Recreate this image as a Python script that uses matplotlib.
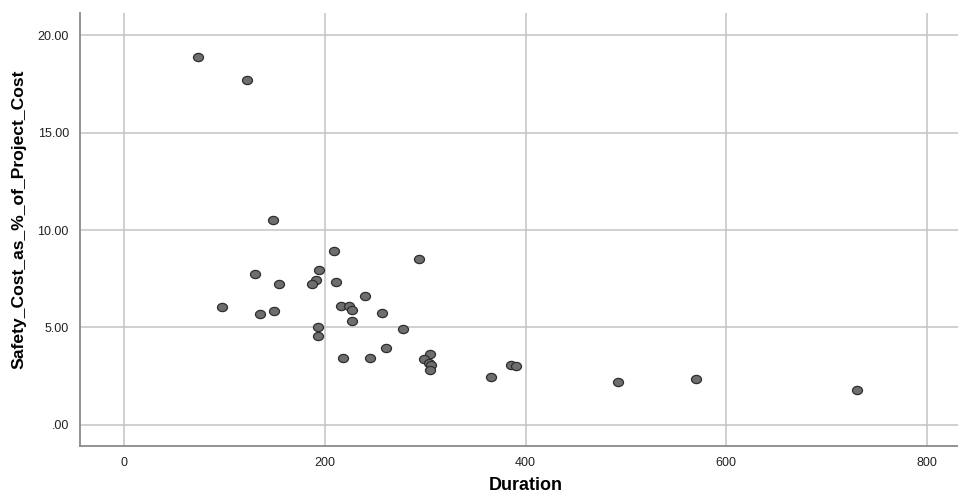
import matplotlib
matplotlib.use("Agg")
from matplotlib import pyplot as plt
from matplotlib.path import Path
from matplotlib.transforms import Affine2D

# Duration vs safety cost share
duration = [74, 122, 148, 209, 294, 130, 194, 154, 191, 187, 211, 240,
            98, 216, 224, 227, 135, 149, 257, 227, 193, 193, 278, 261,
            218, 245, 305, 299, 304, 306, 305, 366, 386, 391, 492, 570, 730]
safety_pct = [18.87, 17.69, 10.51, 8.92, 8.51, 7.72, 7.93, 7.23, 7.44, 7.22,
              7.33, 6.62, 6.04, 6.09, 6.09, 5.88, 5.67, 5.85, 5.74, 5.31,
              5.03, 4.58, 4.93, 3.95, 3.45, 3.45, 3.64, 3.40, 3.17, 3.08,
              2.84, 2.46, 3.08, 3.02, 2.21, 2.36, 1.79]

x_ticks = [0, 200, 400, 600, 800]
y_ticks = [0, 5, 10, 15, 20]
y_tick_labels = [".00", "5.00", "10.00", "15.00", "20.00"]

plt.rcParams['font.family'] = ['Liberation Sans', 'DejaVu Sans']

# slightly flattened circle, like the spss dots
oval = Affine2D().scale(1.0, 0.82).transform_path(Path.unit_circle())

fig = plt.figure(figsize=(9.58, 4.93), dpi=100)
ax = fig.add_axes([0.0835, 0.0953, 0.9165, 0.8783])

ax.scatter(duration, safety_pct, s=52, marker=oval, facecolor="#6e6e6e",
           edgecolor="#2e2e2e", linewidth=0.9, zorder=3)

ax.set_xlim(-44, 831)
ax.set_ylim(-1.08, 21.13)
ax.set_xticks(x_ticks)
ax.set_yticks(y_ticks)
ax.set_yticklabels(y_tick_labels)
ax.tick_params(length=0, labelsize=9, pad=8, colors="#222222")
ax.grid(True, color="#c4c4c4", linewidth=1.1)
ax.set_axisbelow(True)

for side in ["top", "right"]:
    ax.spines[side].set_visible(False)
for side in ["left", "bottom"]:
    ax.spines[side].set_color("#8a8a8a")
    ax.spines[side].set_linewidth(1.3)

ax.set_xlabel("Duration", fontsize=13, fontweight="bold", labelpad=6)
ax.xaxis.label.set_x(0.508)
ax.set_ylabel("Safety_Cost_as_%_of_Project_Cost", fontsize=12.6,
              fontweight="bold", labelpad=8)
ax.yaxis.label.set_y(0.524)

fig.savefig("out.png", dpi=100)
